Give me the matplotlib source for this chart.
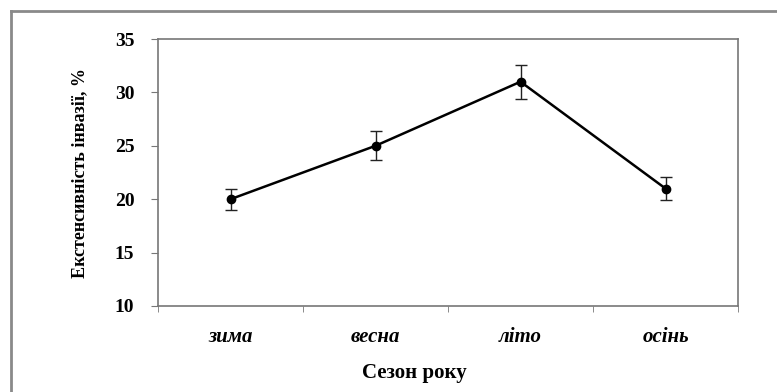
import matplotlib.pyplot as plt
from matplotlib.lines import Line2D

seasons = ['зима', 'весна', 'літо', 'осінь']
extensivity = [20, 25, 31, 21]
errors = [1.0, 1.35, 1.6, 1.05]
yticks = [10, 15, 20, 25, 30, 35]

plt.rcParams['font.family'] = ['Liberation Serif', 'DejaVu Serif']

fig = plt.figure(figsize=(7.77, 3.92), dpi=100)
W, H = 777, 392
ax = fig.add_axes([158 / W, 1 - 306 / H, 580 / W, 267 / H])

x = list(range(len(seasons)))
ax.errorbar(x, extensivity, yerr=errors, color='black', lw=1.8,
            marker='o', markersize=6, ecolor='#222222', elinewidth=1,
            capsize=4, capthick=1)

ax.set_xlim(-0.5, len(seasons) - 0.5)
ax.set_ylim(10, 35)
ax.set_yticks(yticks)
ax.set_yticklabels([str(v) for v in yticks], fontsize=14, fontweight='bold')
ax.set_xticks(x)
ax.set_xticklabels(seasons, fontsize=15, fontweight='bold', style='italic')
ax.set_xticks([i - 0.5 for i in range(len(seasons) + 1)], minor=True)
ax.tick_params(axis='x', which='major', length=0, pad=15)
ax.tick_params(axis='x', which='minor', length=4, direction='out', color='#777777')
ax.tick_params(axis='y', length=5, direction='out', color='#777777', pad=12)

for s in ax.spines.values():
    s.set_color('#777777')
    s.set_linewidth(1.2)

ax.set_xlabel('Сезон року', fontsize=15, fontweight='bold')
ax.xaxis.set_label_coords((414 - 158) / 580, -0.215)
ax.set_ylabel('Екстенсивність інвазії, %', fontsize=13, fontweight='bold')
ax.yaxis.set_label_coords(-0.12, 0.5)

# outer frame of the figure
fig.add_artist(Line2D([11 / W, 11 / W], [0, 1 - 11 / H], transform=fig.transFigure,
                      color='#8a8a8a', lw=2))
fig.add_artist(Line2D([11 / W, 1], [1 - 11 / H, 1 - 11 / H], transform=fig.transFigure,
                      color='#8a8a8a', lw=2))

fig.savefig('out.png', dpi=100)
